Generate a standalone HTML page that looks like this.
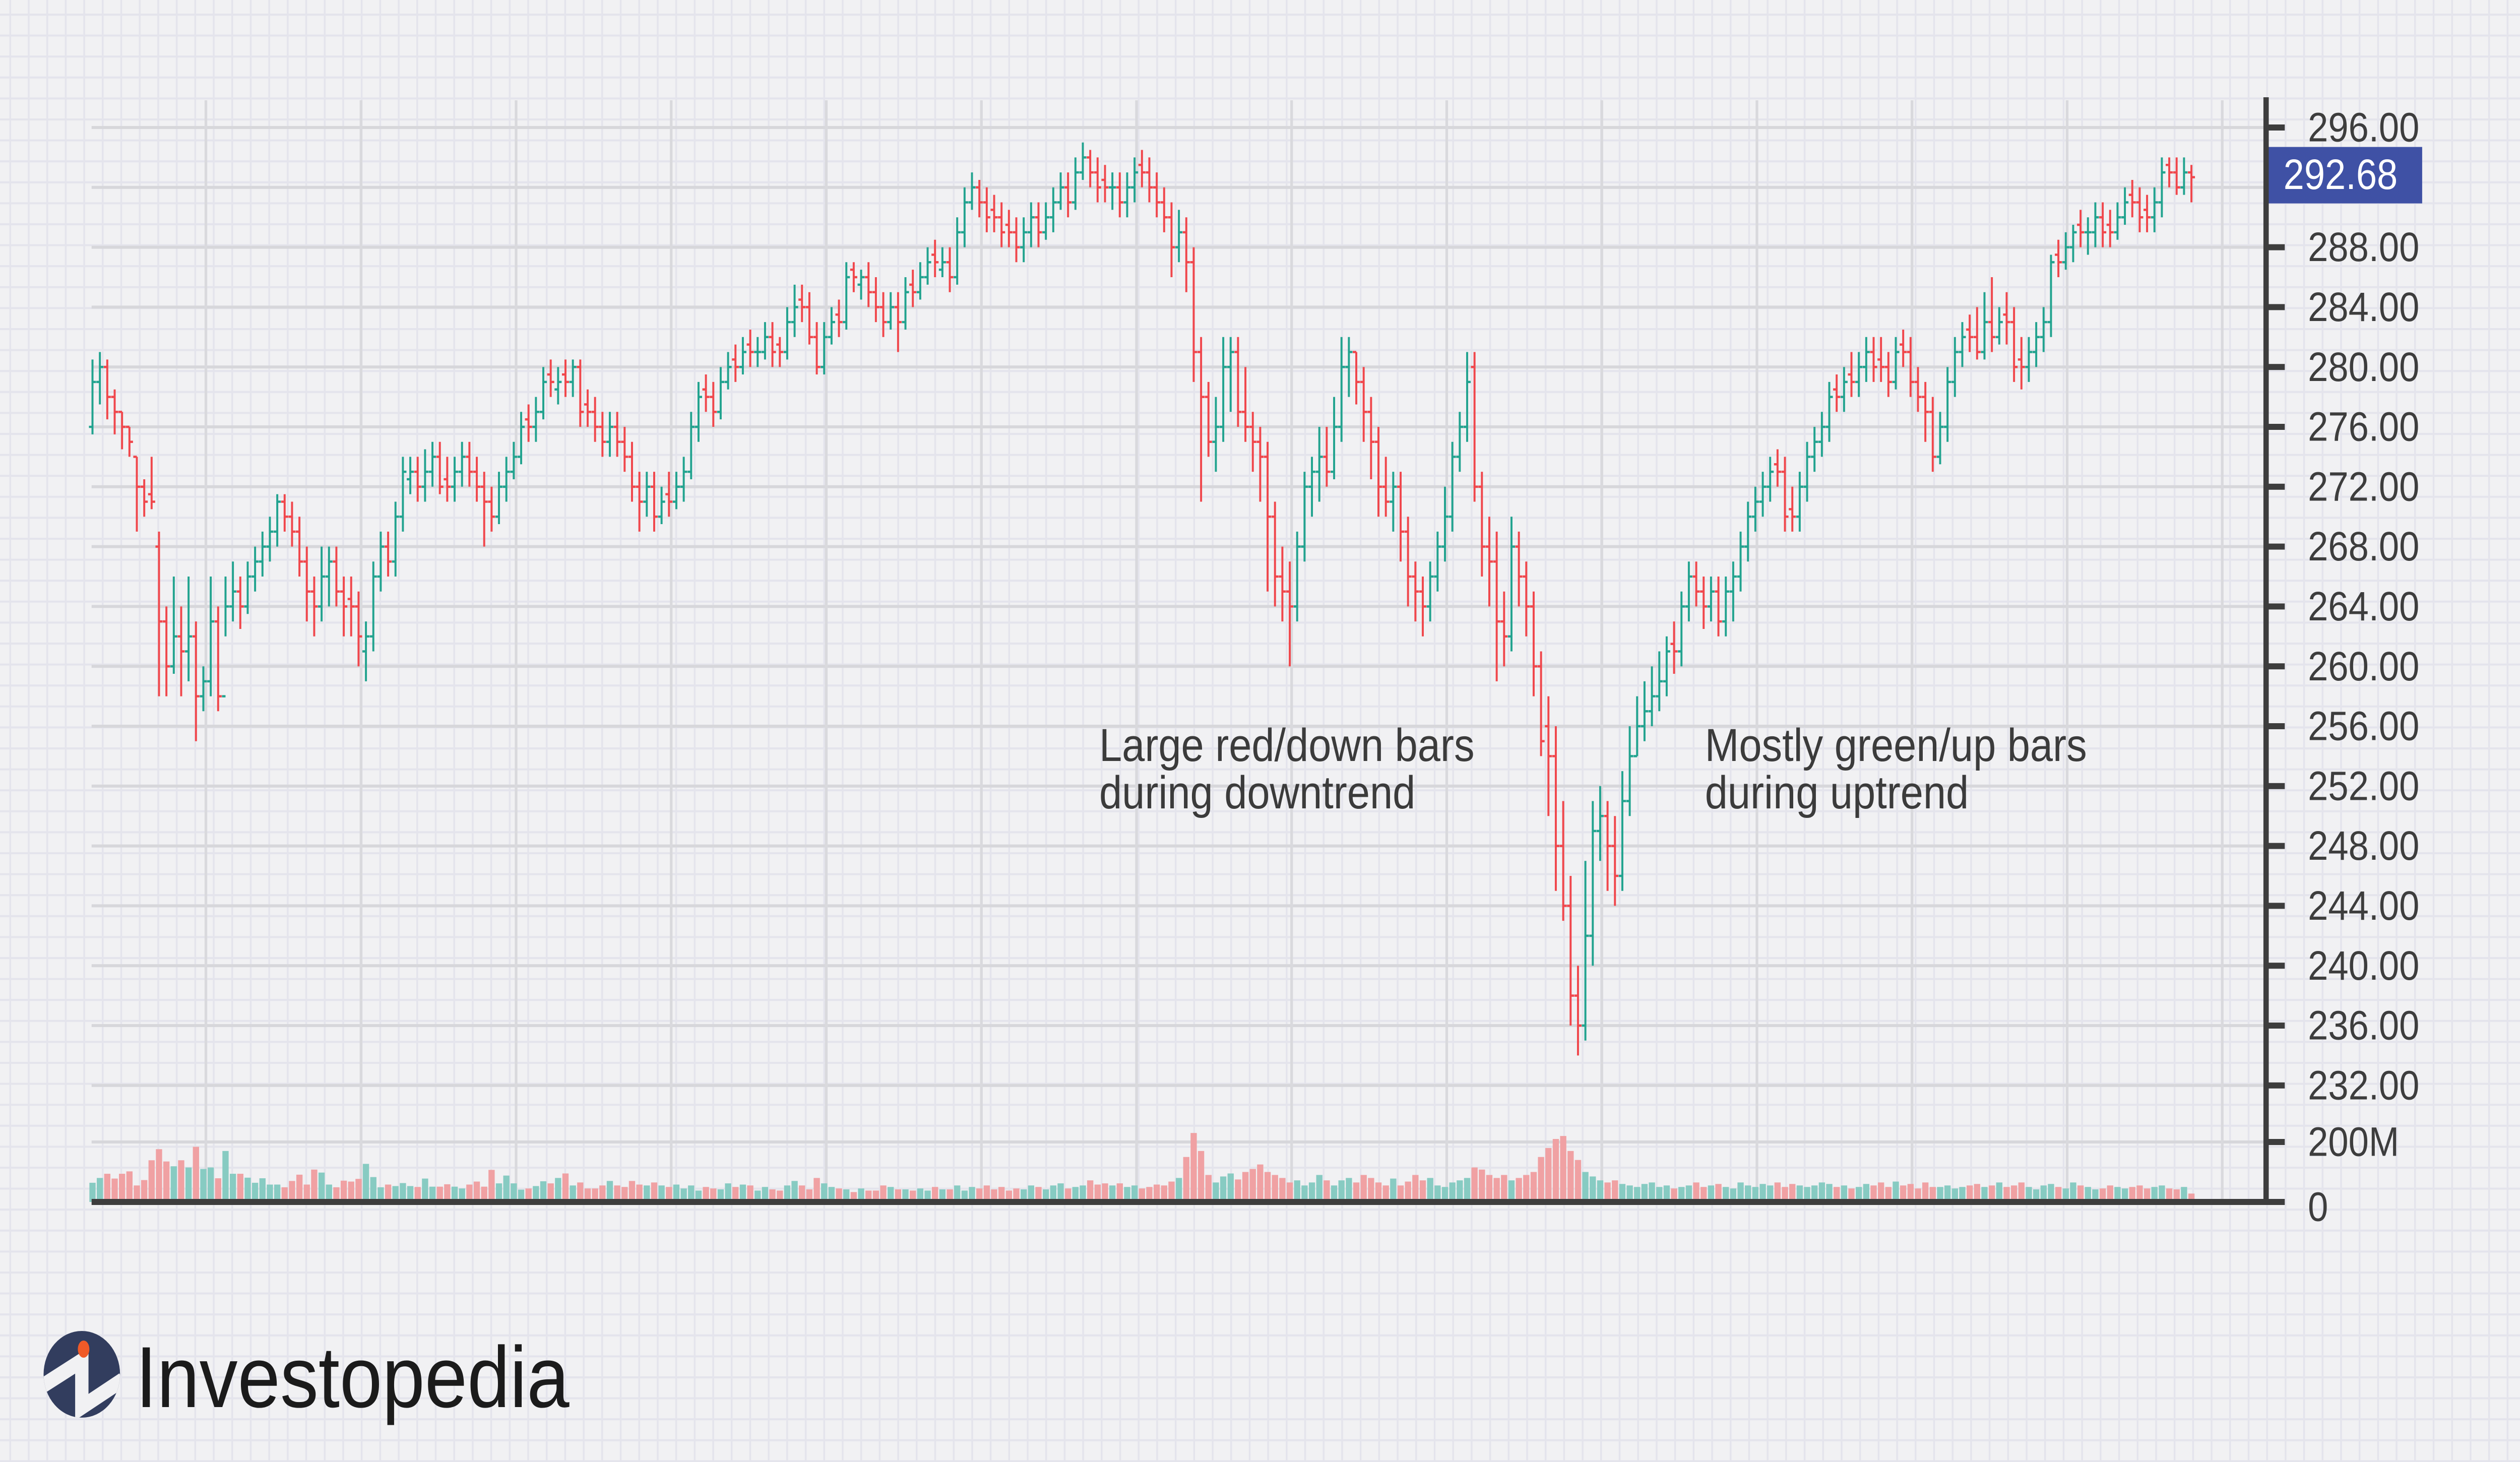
<!DOCTYPE html>
<html>
<head>
<meta charset="utf-8">
<style>
html,body{margin:0;padding:0;background:#f1f1f3;width:100%;height:100%;overflow:hidden;}
svg{display:block;width:100vw;height:100vh;position:fixed;left:0;top:0;}
text{font-family:"Liberation Sans",sans-serif;}
</style>
</head>
<body>
<svg id="chart" xmlns="http://www.w3.org/2000/svg" viewBox="0 0 5667 2901" preserveAspectRatio="none">
  <defs>
    <pattern id="minor" x="21" y="27" width="41.6" height="41.6" patternUnits="userSpaceOnUse">
      <rect x="0" y="0" width="41.6" height="41.6" fill="#f1f1f3"/>
      <rect x="0" y="0" width="4" height="41.6" fill="#e4e4ec"/>
      <rect x="0" y="0" width="41.6" height="4" fill="#e4e4ec"/>
    </pattern>
    <clipPath id="logoClip"><circle cx="184" cy="2727" r="86"/></clipPath>
  </defs>
  <rect x="0" y="0" width="5667" height="2901" fill="url(#minor)"/>
  <g id="grid"></g>
  <g id="volume"></g>
  <g id="bars"></g>
  <g id="axis"></g>
  <text x="2472" y="1510" font-size="92" fill="#3b3b3b">Large red/down bars</text>
  <text x="2472" y="1604" font-size="92" fill="#3b3b3b">during downtrend</text>
  <text x="3834" y="1510" font-size="92" fill="#3b3b3b">Mostly green/up bars</text>
  <text x="3834" y="1604" font-size="92" fill="#3b3b3b">during uptrend</text>
  <g>
    <circle cx="184" cy="2727" r="86" fill="#323d5e"/>
    <polyline clip-path="url(#logoClip)" points="92,2752 184,2700 184,2792 276,2738" fill="none" stroke="#f1f1f3" stroke-width="30" stroke-linejoin="miter"/>
    <ellipse cx="188" cy="2677" rx="13" ry="17" fill="#f05a28"/>
    <text x="305" y="2792" font-size="172" fill="#1b1b1b">Investopedia</text>
  </g>
</svg>
<script>
const opens=[276,279,280,278,277,276,274,272,271.5,268,263,260,262,261,262,258,259,263,258,264,
265,264,266,267,268,269,271,270,269,267,265,264,266,267,265,264.5,264,261,262,266,
268,267,270,272.5,273,272,273,274,272.5,272,273,274,273,272,271,270,272,273,274,276.5,
276,277,279.5,278.5,279.5,279,280,277.5,277,276,275,276,275,274,272,271,272,270,271.5,271,
272,273,276,278.5,278,277,279,280.5,280,281.5,281,281,282,281.5,281,283,284.5,284,282,280,
282,283.5,283,286.5,285.5,286,285,284,283,284,283,285.5,285,286,287.5,286.5,287,286,289,291,
292,291,290.5,290,289.5,289,288,289,290,289,290,291,292,291,293,294,293,292.5,292,292,
291,292,293.5,293,292,291,290,288,289,287,281,278,275,276,280,281,277,276,275,274,
270,266,265,264,268,272,273,274,273,276,280,281,279,277,275,272,271,272,269,266,
265,264,266,268,270,274,276,280,272,268,267,263,262,268,266,264,260,256,254,248,
244,238,236,242,249,250,248,246,251,254,256,257,258,259,261.5,261,264,266,265,264,
265,263,265,266,268,270,271,272,273.5,273,270.5,270,272,274,275,276,278.5,278,279.5,279,
280,281,280.5,280,279,281.5,281,279,278,277,274,276,279,281,282.5,282,281,283,282,283.5,
283,280.5,280,281,282,283,287.5,287,288,289.5,289,289,290,289.5,289,290,291.5,291,290.5,290,
291,293.5,293,292,293];
const highs=[280.5,281,280.5,278.5,277,276,274,272.5,274,269,264,266,264,266,263,260,266,264,266,267,
266,267,268,269,270,271.5,271.5,271,270,268,266,268,268,268,266,266,265,263,267,269,
269,271,274,274,274,274.5,275,275,274,274,275,275,274,273,272,273,274,275,277,277.5,
278,280,280.5,280,280.5,280.5,280.5,278.5,278,277,277,277,276,275,273,273,273,272,273,273,
274,277,279,279.5,279,280,281,281.5,282,282.5,282,283,283,282,284,285.5,285.5,285,283,283,
284,284.5,287,287,286.5,287,286,285,285,285,286,286.5,287,288,288.5,288,288,290,292,293,
292.5,292,291.5,291,290.5,290,290,291,291,291,292,293,293,294,295,294.5,294,293.5,293,293,
293,294,294.5,294,293,292,291,290.5,290,288,282,279,278,282,282,282,280,277,276,275,
271,268,267,269,273,274,276,276,278,282,282,281,280,278,276,274,273,273,270,267,
266,267,269,272,275,277,281,281,273,270,269,265,270,269,267,265,261,258,256,251,
246,240,247,251,252,251,250,253,256,258,259,260,261,262,263,265,267,267,266,266,
266,266,267,269,271,272,273,274,274.5,274,272,273,275,276,277,279,279.5,280,281,281,
282,282,282,281,282,282.5,282,280,279,278,277,280,282,283,283.5,284,285,286,284,285,
284,282,282,283,284,287.5,288.5,289,289.5,290.5,290,291,291,290.5,291,292,292.5,292,291.5,292,
294,294,294,294,293.5];
const lows=[275.5,277.5,276.5,275.5,274.5,274,269,270,270.5,258,258,259.5,258,259,255,257,258,257,262,263,
262.5,263.5,265,266,267,268,269,268,266,263,262,263,264,264,262,262,260,259,261,265,
266,266,269,271.5,271,271,272,271.5,271,271,272,272,271,268,269,269.5,271,272.5,273.5,275,
275,276.5,278,277.5,278,278,276,276,275,274,274,274,273,271,269,270,269,269.5,270,270.5,
271,272.5,275,277,276,276.5,278.5,279,279.5,280,280,280.5,280,280,280.5,282,283,281.5,279.5,279.5,
281.5,282,282.5,285,284.5,284,283,282,282.5,281,282.5,284,284.5,285.5,286,286,285,285.5,288,290.5,
290,289,289,288,288,287,287,288,288,288.5,289,290.5,290,290.5,292.5,292,291,291,290.5,290,
290,291,292,291,290,289,286,287,285,279,271,274,273,275,277,276,275,273,271,265,
264,263,260,263,267,270,271,272,272.5,275,278,277.5,275,272.5,270,270,269,267,264,263,
262,263,265,267,269,273,275,271,266,264,259,260,261,264,262,258,254,250,245,243,
236,234,235,240,247,245,244,245,250,254,255,256,257,258,259.5,260,263,264,262.5,263,
262,262,263,265,267,269,270,271,272,269,269,269,271,273,274,275,277,277,278,278,
279,279,279,278,278.5,280,278,277,275,273,273.5,275,278,280,281,280.5,280.5,281,281.5,281.5,
279,278.5,279,280,281,282,286,286.5,287,288,287.5,288,288,288,288.5,289.5,290,289,289,289,
290,292,291.5,291.5,291];
const closes=[279,280,278,277,276,275,272,271,271,263,260,262,261,262,258,259,263,258,264,265,
264,266,267,268,269,271,270,269,267,265,264,266,267,265,264,264,262,262,266,268,
267,270,273,273,272,273,274,272,272,273,274,273,272,271,270,272,273,274,276,276,
277,279,279,279,279,280,277,277,276,275,276,275,274,272,271,272,270,271,271,272,
273,276,278,278,277,279,280,280,281,281,281,282,281,281,283,284,284,282,280,282,
283,283,286,286,286,285,284,283,284,283,285,285,286,287,287,287,286,289,291,292,
291,290,290,289,289,288,289,290,289,290,291,292,291,293,294,293,292,292,292,291,
292,293,293,292,291,290,288,289,287,281,278,275,276,280,281,277,276,275,274,270,
266,265,264,268,272,273,274,273,276,280,281,279,277,275,272,271,272,269,266,265,
264,266,268,270,274,276,279,272,268,267,263,262,268,266,264,260,255,254,248,244,
238,236,242,249,250,248,246,251,254,256,257,258,259,261,261,264,266,265,264,265,
263,265,266,268,270,271,272,273,273,270,270,272,274,275,276,278,278,279,279,280,
281,280,280,279,281,281,279,278,277,274,276,279,281,282,282,281,283,282,283,283,
280,280,281,282,283,287,287,288,289,289,289,290,289,289,290,291,291,290,290,291,
293,293,292,293,292.68];
const volumes=[64,80,94,78,94,102,55,73,139,176,135,119,139,115,184,110,115,79,170,94,
94,81,64,79,58,58,49,70,91,58,108,98,58,49,71,68,77,127,83,49,
58,53,63,53,50,78,51,51,59,51,45,58,68,51,107,62,88,62,41,45,
53,69,62,80,95,55,65,45,45,55,70,55,50,70,58,55,65,55,50,58,
45,55,38,50,45,42,62,50,58,55,38,50,42,38,55,70,55,42,80,62,
50,45,42,33,45,38,38,55,50,42,42,38,45,38,50,42,42,55,38,50,
45,55,42,50,38,45,42,55,50,42,55,62,45,50,55,72,58,62,55,62,
50,55,45,50,58,55,68,80,150,230,170,90,65,85,95,75,100,110,125,100,
90,80,65,72,55,65,90,72,55,72,80,65,90,80,65,55,78,55,68,90,
72,80,55,50,65,72,80,115,108,90,80,90,72,80,90,100,150,180,210,220,
170,140,100,85,72,65,72,60,55,50,60,65,50,55,45,50,55,65,50,55,
60,50,45,65,55,50,60,55,65,50,60,55,50,55,65,60,50,55,45,50,
60,55,65,50,68,55,60,45,65,50,50,55,45,50,55,60,50,55,65,50,
55,65,50,42,55,60,50,45,65,55,50,42,45,55,50,45,50,55,45,50,
55,45,42,50,28];
const priceTicks=[296,292,288,284,280,276,272,268,264,260,256,252,248,244,240,236,232];
const priceTickLabels=["296.00","292.00","288.00","284.00","280.00","276.00","272.00","268.00","264.00","260.00","256.00","252.00","248.00","244.00","240.00","236.00","232.00"];
const volTicks=[200,0];
const volTickLabels=["200M","0"];
const vGridCount=[1,2,3,4,5,6,7,8,9,10,11,12,13,14];
const lastPrice=292.68;

const NS="http://www.w3.org/2000/svg";
function yP(p){return 253+(296-p)*29.7;}
function yV(v){return 2385-v*0.595;}
function xB(i){return 208+i*16.62;}
const PLOT_L=206, AXIS_X=5096;

function mk(tag,attrs,parent){
  const e=document.createElementNS(NS,tag);
  for(const k in attrs){e.setAttribute(k,attrs[k]);}
  parent.appendChild(e);
  return e;
}
const grid=document.getElementById('grid');
const vol=document.getElementById('volume');
const bars=document.getElementById('bars');
const axis=document.getElementById('axis');

priceTicks.forEach((p)=>{
  const l=mk('rect',{x:PLOT_L,y:yP(p)-3,width:AXIS_X-PLOT_L,height:6,fill:'#d7d7db'},grid);
  
  
});
volTicks.forEach((v)=>{
  if(v===0)return;
  const l=mk('rect',{x:PLOT_L,y:yV(v)-3,width:AXIS_X-PLOT_L,height:6,fill:'#d7d7db'},grid);
  
  
});
vGridCount.forEach((k)=>{
  const x=463+(k-1)*348.8;
  const l=mk('rect',{x:x-3,y:199,width:6,height:2186,fill:'#d9d9dd'},grid);
  
  
});

volumes.forEach((v,i)=>{
  const up=closes[i]>=opens[i];
  const r=mk('rect',{x:xB(i)-7,y:yV(v),width:14,height:yV(0)-yV(v),fill:up?'#87cbc2':'#f0a1a3'},vol);
  
  
});

closes.forEach((c,i)=>{
  const o=opens[i];
  const col=c>=o?'#22a38f':'#f0474c';
  const x=xB(i);
  const g=mk('g',{stroke:col,'stroke-width':4.5,fill:'none'},bars);
  
  
  mk('line',{x1:x,y1:yP(highs[i]),x2:x,y2:yP(lows[i])},g);
  mk('line',{x1:x-8,y1:yP(o),x2:x,y2:yP(o)},g);
  mk('line',{x1:x,y1:yP(c),x2:x+8,y2:yP(c)},g);
});

const al=mk('rect',{x:AXIS_X-6,y:193,width:12,height:2198,fill:'#3d3d3d'},axis);


const bl=mk('rect',{x:PLOT_L,y:2379,width:5128-PLOT_L,height:12,fill:'#3d3d3d'},axis);


priceTicks.forEach((p,i)=>{
  const t=mk('rect',{x:AXIS_X,y:yP(p)-6,width:42,height:12,fill:'#3d3d3d'},axis);
  
  
  const tx=mk('text',{x:5190,y:yP(p),'font-size':82,fill:'#3d3d3d','dominant-baseline':'central'},axis);
  tx.textContent=priceTickLabels[i];
  
  
});
volTicks.forEach((v,i)=>{
  const t=mk('rect',{x:AXIS_X,y:yV(v)-6,width:42,height:12,fill:'#3d3d3d'},axis);
  
  
  const tx=mk('text',{x:5190,y:yV(v)+(v===0?10:0),'font-size':82,fill:'#3d3d3d','dominant-baseline':'central'},axis);
  tx.textContent=volTickLabels[i];
  
  
});
const box=mk('rect',{x:5102,y:yP(lastPrice)-60,width:345,height:112,fill:'#3f51a5'},axis);


const lt=mk('text',{x:5135,y:yP(lastPrice)-6,'font-size':84,fill:'#ffffff','dominant-baseline':'central'},axis);
lt.textContent=lastPrice.toFixed(2);


</script>
</body>
</html>
